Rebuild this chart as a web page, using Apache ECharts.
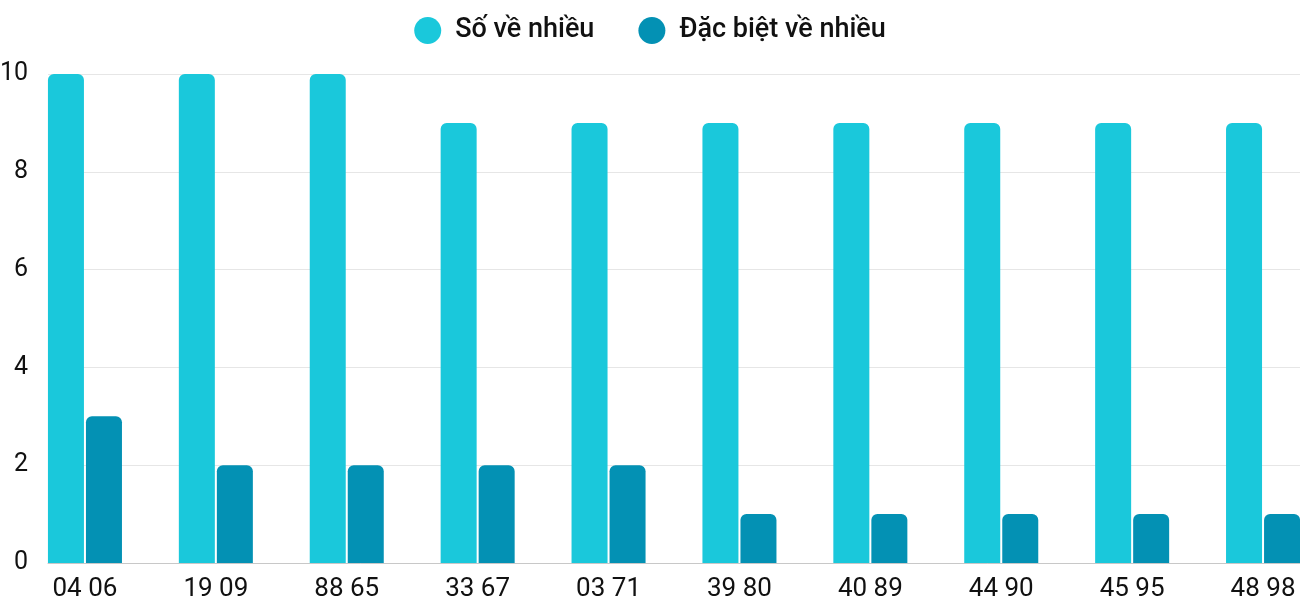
<!DOCTYPE html>
<html>
<head>
<meta charset="utf-8">
<script src="https://cdn.jsdelivr.net/npm/echarts@6/dist/echarts.min.js"></script>
<style>
  html, body { margin: 0; padding: 0; background: #fff; }
  #chart { width: 1300px; height: 600px; }
</style>
</head>
<body>
<div id="chart"></div>
<script>
const categories = ['04 06', '19 09', '88 65', '33 67', '03 71', '39 80', '40 89', '44 90', '45 95', '48 98'];
const soVeNhieu = [10, 10, 10, 9, 9, 9, 9, 9, 9, 9];
const dacBietVeNhieu = [3, 2, 2, 2, 2, 1, 1, 1, 1, 1];
const yTicks = { min: 0, max: 10, interval: 2 };

const font = 'Roboto, "Noto Sans", sans-serif';
const chart = echarts.init(document.getElementById('chart'));

chart.setOption({
  animation: false,
  color: ['#1ac8db', '#0391b4'],
  legend: {
    top: 12,
    left: 'center',
    icon: 'circle',
    itemWidth: 27,
    itemHeight: 27,
    itemGap: 44,
    textStyle: { fontFamily: font, fontSize: 27, fontWeight: 500, color: '#111', padding: [0, 0, 0, 9] },
    data: ['Số về nhiều', 'Đặc biệt về nhiều']
  },
  grid: [
    // bars: category slots run past the visible plot edges
    { left: 19.5, right: -28.5, top: 74, bottom: 37, outerBoundsMode: 'none', containLabel: false },
    // visible frame: split lines, axis line, y labels
    { left: 48, right: 0, top: 74, bottom: 37, outerBoundsMode: 'none', containLabel: false }
  ],
  xAxis: [
    {
      gridIndex: 0,
      type: 'category',
      data: categories,
      axisLine: { show: false },
      axisTick: { show: false },
      axisLabel: { fontFamily: font, fontSize: 26, color: '#111', margin: 13 }
    },
    {
      gridIndex: 1,
      type: 'category',
      data: categories,
      axisLine: { show: true, lineStyle: { color: '#c8c8c8', width: 1 } },
      axisTick: { show: false },
      axisLabel: { show: false }
    }
  ],
  yAxis: [
    {
      gridIndex: 0,
      type: 'value',
      min: yTicks.min, max: yTicks.max, interval: yTicks.interval,
      axisLabel: { show: false },
      splitLine: { show: false },
      axisLine: { show: false },
      axisTick: { show: false }
    },
    {
      gridIndex: 1,
      type: 'value',
      min: yTicks.min, max: yTicks.max, interval: yTicks.interval,
      axisLabel: { fontFamily: font, fontSize: 25, color: '#111', margin: 20 },
      splitLine: { lineStyle: { color: '#e6e6e6', width: 1 } },
      axisLine: { show: false },
      axisTick: { show: false }
    }
  ],
  series: [
    {
      name: 'Số về nhiều',
      type: 'bar',
      xAxisIndex: 0, yAxisIndex: 0,
      data: soVeNhieu,
      barWidth: 36,
      barGap: '5.6%',
      itemStyle: { borderRadius: [6, 6, 0, 0] }
    },
    {
      name: 'Đặc biệt về nhiều',
      type: 'bar',
      xAxisIndex: 0, yAxisIndex: 0,
      data: dacBietVeNhieu,
      barWidth: 36,
      barGap: '5.6%',
      itemStyle: { borderRadius: [6, 6, 0, 0] }
    }
  ]
});
</script>
</body>
</html>
